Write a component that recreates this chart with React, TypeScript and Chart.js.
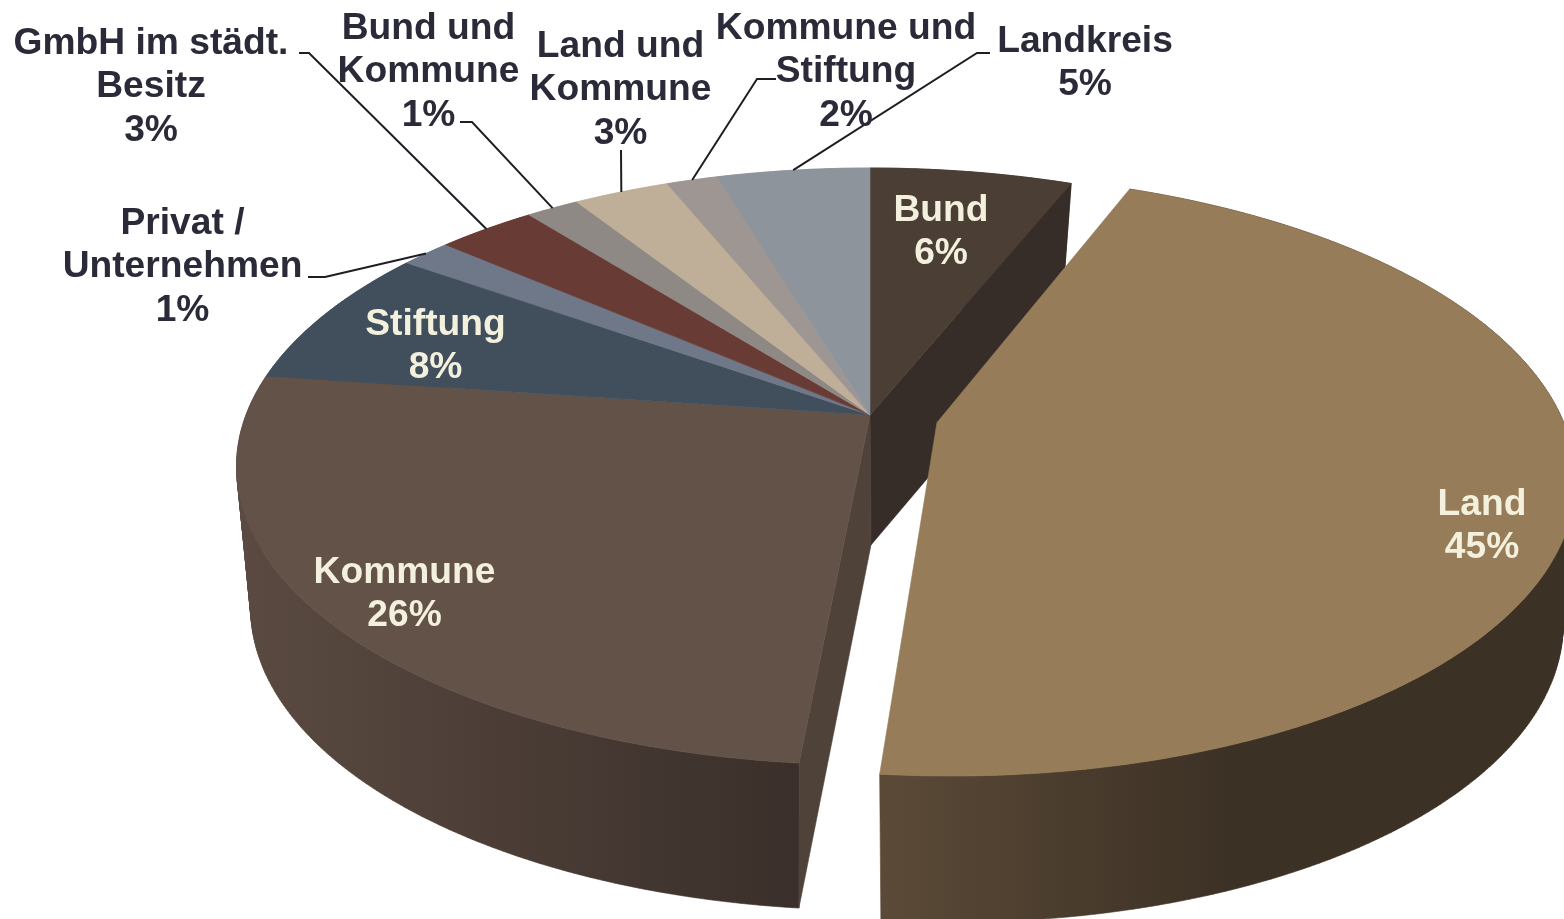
import React, { useEffect, useRef } from "react";
import { Chart, registerables } from "chart.js";

Chart.register(...registerables);

// ---- data ----
const categories = ["Bund", "Land", "Kommune", "Stiftung", "Privat / Unternehmen", "GmbH im städt. Besitz", "Bund und Kommune", "Land und Kommune", "Kommune und Stiftung", "Landkreis"];
const shares = [6.1, 45.4, 25.7, 7.6, 1.55, 3, 1.6, 2.9, 1.55, 4.6];
const percentLabels = ["6%", "45%", "26%", "8%", "1%", "3%", "1%", "3%", "2%", "5%"];
const nameLines = [["Bund"], ["Land"], ["Kommune"], ["Stiftung"], ["Privat /", "Unternehmen"], ["GmbH im städt.", "Besitz"], ["Bund und", "Kommune"], ["Land und", "Kommune"], ["Kommune und", "Stiftung"], ["Landkreis"]];

// ---- styles ----
const topColors = ["#4a3e35", "#967c58", "#635248", "#414f5d", "#6e7888", "#693b35", "#8f8986", "#bfae98", "#9e9692", "#8e949c"];
const sideColors = ["#372d28", "#3c3125", "#4f4239", "#414f5d", "#6e7888", "#693b35", "#8f8986", "#bfae98", "#9e9692", "#8e949c"];
const explodeFractions = [0, 0.11, 0, 0, 0, 0, 0, 0, 0, 0];
const wallStops: ([number, number, string][] | null)[] = [
  null,
  [[879, 0, "#5b4a37"], [1230, 1, "#3c3125"]],
  [[240, 0, "#5a4a41"], [800, 1, "#3a2f2a"]],
  null, null, null, null, null, null, null,
];
const DARK = "#2a2a38";
const LIGHT = "#f3f1dd";
const labelPos: [number, number][] = [[941, 208], [1482, 502], [404.5, 570], [435.5, 322], [182.5, 221], [151, 41], [428.5, 26], [620.5, 44], [846, 26], [1085, 39]];
const labelColors = [LIGHT, LIGHT, LIGHT, LIGHT, DARK, DARK, DARK, DARK, DARK, DARK];
const leaders: ([number, number][] | null)[] = [
  null, null, null, null,
  [[308, 277], [325, 277]],
  [[299, 53], [309, 53]],
  [[460, 122], [472, 122]],
  [[621, 150]],
  [[776, 79], [757, 79]],
  [[990, 53], [977, 53]],
];

// projected planes of the pie: top face and bottom face
const TOP = { cx: 870, cy: 415, R: 624, S: 289.6, k: 0.1725 };
const BOT = { cx: 871, cy: 545, R: 606.6, S: 288.8, k: 0.209 };
type Plane = typeof TOP;
type Pt = [number, number];

function project(p: Plane, u: number, v: number): Pt {
  const w = 1 - p.k * v;
  return [p.cx + (p.R * u) / w, p.cy + (p.S * v) / w];
}
const rimPoint = (p: Plane, t: number, du: number, dv: number) => project(p, Math.sin(t) + du, -Math.cos(t) + dv);

function signedArea(q: Pt[]) {
  let a = 0;
  q.forEach((p, i) => {
    const r = q[(i + 1) % q.length];
    a += p[0] * r[1] - r[0] * p[1];
  });
  return a;
}

// all polygons go in one path, same winding, so that they fill without seams
function fillPolys(ctx: CanvasRenderingContext2D, polys: Pt[][], style: any) {
  ctx.beginPath();
  polys.forEach((raw) => {
    const pts = signedArea(raw) < 0 ? [...raw].reverse() : raw;
    pts.forEach((q, i) => (i ? ctx.lineTo(q[0], q[1]) : ctx.moveTo(q[0], q[1])));
    ctx.closePath();
  });
  ctx.fillStyle = style;
  ctx.strokeStyle = style;
  ctx.lineWidth = 0.6;
  ctx.fill("nonzero");
  ctx.stroke();
}

const pie3d = {
  id: "pie3d",
  beforeDatasetsDraw(chart: any) {
    const ctx: CanvasRenderingContext2D = chart.ctx;
    const arcs = chart.getDatasetMeta(0).data;
    const n = arcs.length;
    const geo = arcs.map((a: any, i: number) => {
      const t0 = a.startAngle + Math.PI / 2;
      const t1 = a.endAngle + Math.PI / 2;
      const mid = (t0 + t1) / 2;
      const e = explodeFractions[i];
      return { t0, t1, mid, du: e * Math.sin(mid), dv: -e * Math.cos(mid) };
    });
    ctx.save();
    const sampled = (g: any) => {
      const steps = Math.max(2, Math.ceil(((g.t1 - g.t0) * 360) / Math.PI));
      return [...Array(steps + 1).keys()].map((s) => g.t0 + ((g.t1 - g.t0) * s) / steps);
    };
    const drawSlice = (i: number) => {
      const g = geo[i];
      const ts = sampled(g);
      const stops = wallStops[i];
      let wallStyle: any = sideColors[i];
      if (stops) {
        const gr = ctx.createLinearGradient(stops[0][0], 0, stops[stops.length - 1][0], 0);
        stops.forEach((s) => gr.addColorStop(s[1], s[2]));
        wallStyle = gr;
      }
      const quads: Pt[][] = ts.slice(0, -1).map((t: number, j: number) => [
        rimPoint(TOP, t, g.du, g.dv), rimPoint(TOP, ts[j + 1], g.du, g.dv),
        rimPoint(BOT, ts[j + 1], g.du, g.dv), rimPoint(BOT, t, g.du, g.dv),
      ]);
      fillPolys(ctx, quads, wallStyle);
      if (!explodeFractions[i]) {
        const c0 = project(TOP, 0, 0);
        const c1 = project(BOT, 0, 0);
        if (explodeFractions[(i + 1) % n]) fillPolys(ctx, [[c0, rimPoint(TOP, g.t1, 0, 0), rimPoint(BOT, g.t1, 0, 0), c1]], sideColors[i]);
        if (explodeFractions[(i + n - 1) % n]) fillPolys(ctx, [[c0, rimPoint(TOP, g.t0, 0, 0), rimPoint(BOT, g.t0, 0, 0), c1]], sideColors[i]);
      }
    };
    const drawTop = (i: number) => {
      const g = geo[i];
      fillPolys(ctx, [[project(TOP, g.du, g.dv), ...sampled(g).map((t: number) => rimPoint(TOP, t, g.du, g.dv))]], topColors[i]);
    };
    const idx = [...Array(n).keys()];
    const backs = idx.filter((i) => !explodeFractions[i]);
    const fronts = idx.filter((i) => explodeFractions[i]);
    backs.forEach(drawSlice);
    backs.forEach(drawTop);
    fronts.forEach(drawSlice);
    fronts.forEach(drawTop);

    // leader lines
    ctx.strokeStyle = "#1e1e24";
    ctx.lineWidth = 2;
    leaders.forEach((pts, i) => {
      if (!pts) return;
      const end = rimPoint(TOP, geo[i].mid, geo[i].du, geo[i].dv);
      ctx.beginPath();
      pts.forEach((q, j) => (j ? ctx.lineTo(q[0], q[1]) : ctx.moveTo(q[0], q[1])));
      ctx.lineTo(end[0], end[1]);
      ctx.stroke();
    });

    // labels
    ctx.font = 'bold 37.2px "Liberation Sans", Arial, sans-serif';
    ctx.textAlign = "center";
    ctx.textBaseline = "alphabetic";
    categories.forEach((_, i) => {
      const lines = [...nameLines[i], percentLabels[i]];
      ctx.fillStyle = labelColors[i];
      lines.forEach((line, j) => ctx.fillText(line, labelPos[i][0], labelPos[i][1] + 13 + j * 43.4));
    });
    ctx.restore();
    return false;
  },
};

export default function App() {
  const ref = useRef<HTMLCanvasElement | null>(null);
  useEffect(() => {
    document.body.style.margin = "0";
    const chart = new Chart(ref.current as HTMLCanvasElement, {
      type: "pie",
      data: { labels: categories, datasets: [{ data: shares, backgroundColor: topColors, borderWidth: 0 }] },
      options: {
        responsive: false,
        animation: false,
        plugins: { legend: { display: false }, tooltip: { enabled: false }, title: { display: false } },
      },
      plugins: [pie3d],
    } as any);
    return () => chart.destroy();
  }, []);
  return <canvas ref={ref} width={1564} height={919} style={{ display: "block", background: "#ffffff" }} />;
}
